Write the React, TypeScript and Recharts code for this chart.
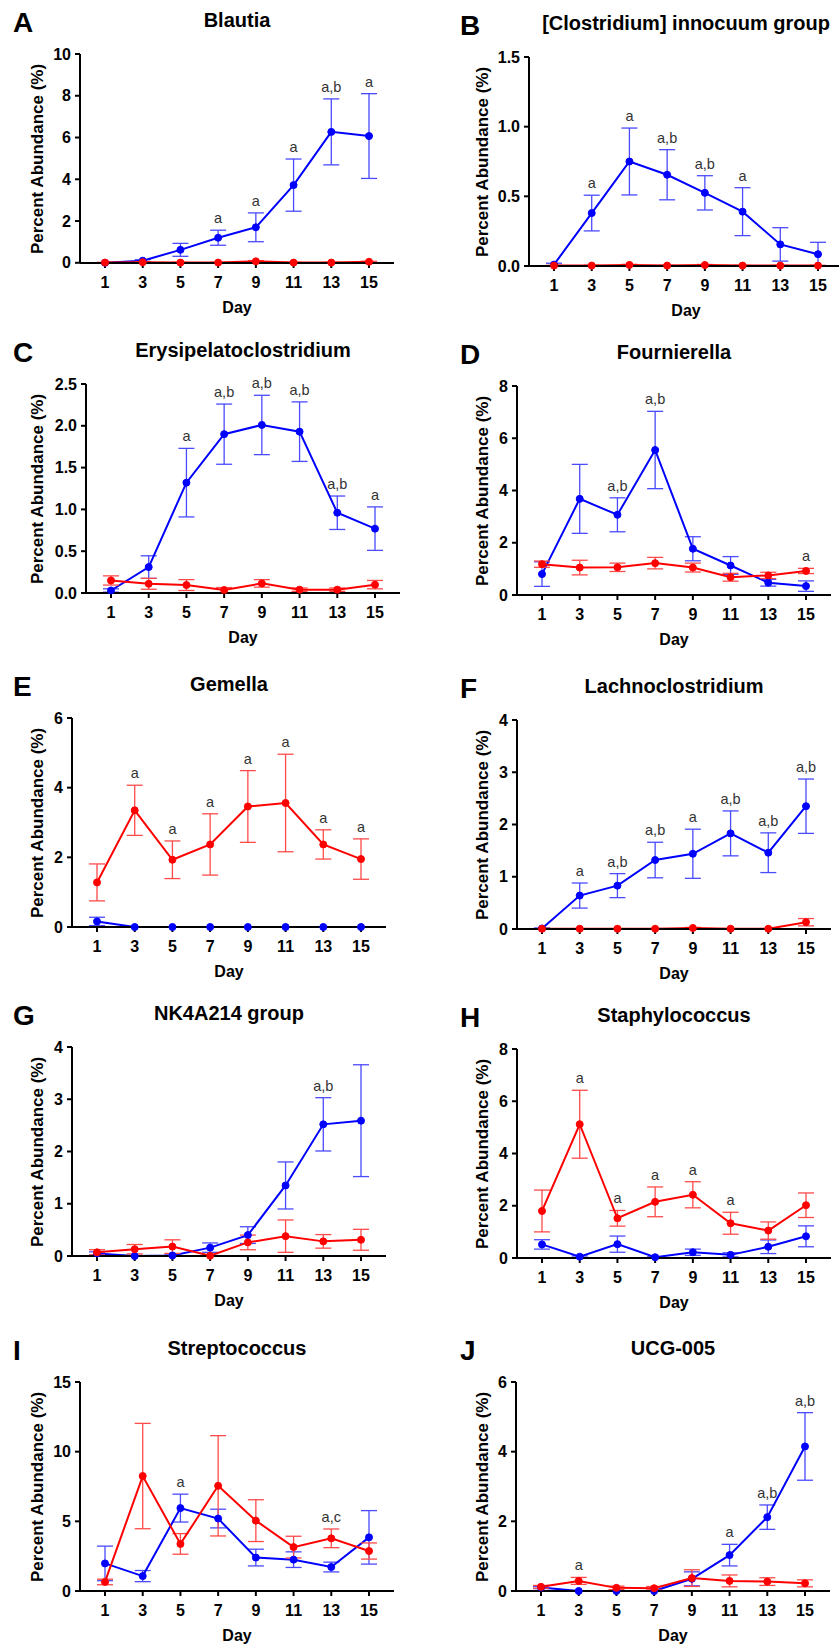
import React from 'react';
import { LineChart, Line, XAxis, YAxis, ErrorBar } from 'recharts';

const days = [1, 3, 5, 7, 9, 11, 13, 15];

// A - Blautia
const blautiaBlue = [0.0, 0.1, 0.62, 1.2, 1.7, 3.72, 6.27, 6.07];
const blautiaBlueErr = [0.01, 0.05, 0.31, 0.36, 0.69, 1.25, 1.58, 2.03];
const blautiaRed = [0.01, 0.03, 0.01, 0.01, 0.07, 0.01, 0.01, 0.05];
const blautiaRedErr = [0.01, 0.02, 0.01, 0.01, 0.03, 0.01, 0.01, 0.02];
const blautiaMarks = ['', '', '', 'a', 'a', 'a', 'a,b', 'a'];

// B - [Clostridium] innocuum group
const innocuumBlue = [0.01, 0.38, 0.75, 0.655, 0.525, 0.39, 0.155, 0.085];
const innocuumBlueErr = [0.01, 0.128, 0.24, 0.18, 0.123, 0.172, 0.12, 0.085];
const innocuumRed = [0.003, 0.003, 0.008, 0.003, 0.007, 0.003, 0.003, 0.003];
const innocuumRedErr = [0.002, 0.002, 0.004, 0.002, 0.004, 0.002, 0.002, 0.002];
const innocuumMarks = ['', 'a', 'a', 'a,b', 'a,b', 'a', '', ''];

// C - Erysipelatoclostridium
const erysiBlue = [0.03, 0.31, 1.32, 1.9, 2.01, 1.93, 0.96, 0.77];
const erysiBlueErr = [0.02, 0.135, 0.41, 0.36, 0.355, 0.356, 0.2, 0.26];
const erysiRed = [0.15, 0.11, 0.095, 0.035, 0.115, 0.04, 0.04, 0.1];
const erysiRedErr = [0.055, 0.065, 0.065, 0.03, 0.045, 0.02, 0.02, 0.05];
const erysiMarks = ['', '', 'a', 'a,b', 'a,b', 'a,b', 'a,b', 'a'];

// D - Fournierella
const fournBlue = [0.8, 3.68, 3.07, 5.55, 1.77, 1.13, 0.47, 0.34];
const fournBlueErr = [0.47, 1.32, 0.65, 1.48, 0.46, 0.34, 0.13, 0.2];
const fournRed = [1.18, 1.05, 1.06, 1.22, 1.05, 0.68, 0.75, 0.92];
const fournRedErr = [0.12, 0.28, 0.16, 0.22, 0.17, 0.15, 0.12, 0.1];
const fournMarks = ['', '', 'a,b', 'a,b', '', '', '', 'a'];

// E - Gemella
const gemellaBlue = [0.16, 0, 0, 0, 0, 0, 0, 0];
const gemellaBlueErr = [0.12, 0, 0, 0, 0, 0, 0, 0];
const gemellaRed = [1.28, 3.35, 1.93, 2.37, 3.46, 3.56, 2.37, 1.95];
const gemellaRedErr = [0.53, 0.72, 0.54, 0.88, 1.03, 1.4, 0.42, 0.58];
const gemellaMarks = ['', 'a', 'a', 'a', 'a', 'a', 'a', 'a'];

// F - Lachnoclostridium
const lachnoBlue = [0.01, 0.64, 0.83, 1.32, 1.44, 1.83, 1.46, 2.35];
const lachnoBlueErr = [0.01, 0.24, 0.23, 0.34, 0.47, 0.43, 0.38, 0.52];
const lachnoRed = [0.005, 0.005, 0.005, 0.005, 0.02, 0.005, 0.005, 0.13];
const lachnoRedErr = [0.003, 0.003, 0.003, 0.003, 0.01, 0.003, 0.003, 0.07];
const lachnoMarks = ['', 'a', 'a,b', 'a,b', 'a', 'a,b', 'a,b', 'a,b'];

// G - NK4A214 group
const nkBlue = [0.05, 0.0, 0.01, 0.16, 0.4, 1.35, 2.52, 2.59];
const nkBlueErr = [0.03, 0, 0.01, 0.09, 0.16, 0.45, 0.51, 1.07];
const nkRed = [0.07, 0.13, 0.18, 0.005, 0.26, 0.38, 0.28, 0.31];
const nkRedErr = [0.05, 0.09, 0.13, 0.005, 0.14, 0.31, 0.13, 0.2];
const nkMarks = ['', '', '', '', '', '', 'a,b', ''];

// H - Staphylococcus
const staphBlue = [0.52, 0.05, 0.53, 0.03, 0.22, 0.12, 0.43, 0.83];
const staphBlueErr = [0.18, 0.03, 0.31, 0.02, 0.12, 0.08, 0.26, 0.4];
const staphRed = [1.8, 5.12, 1.52, 2.15, 2.42, 1.33, 1.05, 2.02];
const staphRedErr = [0.8, 1.3, 0.3, 0.57, 0.5, 0.42, 0.33, 0.47];
const staphMarks = ['', 'a', 'a', 'a', 'a', 'a', '', ''];

// I - Streptococcus
const strepBlue = [1.98, 1.07, 5.95, 5.2, 2.4, 2.25, 1.72, 3.85];
const strepBlueErr = [1.24, 0.4, 1.0, 0.67, 0.6, 0.56, 0.35, 1.92];
const strepRed = [0.65, 8.25, 3.38, 7.55, 5.05, 3.15, 3.78, 2.87];
const strepRedErr = [0.2, 3.78, 0.74, 3.6, 1.5, 0.78, 0.67, 0.58];
const strepMarks = ['', '', 'a', '', '', '', 'a,c', ''];

// J - UCG-005
const ucgBlue = [0.1, 0.0, 0.0, 0.0, 0.35, 1.03, 2.12, 4.15];
const ucgBlueErr = [0.03, 0, 0, 0, 0.2, 0.31, 0.35, 0.97];
const ucgRed = [0.12, 0.29, 0.09, 0.08, 0.37, 0.29, 0.27, 0.22];
const ucgRedErr = [0.04, 0.1, 0.05, 0.05, 0.24, 0.17, 0.11, 0.1];
const ucgMarks = ['', 'a', '', '', '', 'a', 'a,b', 'a,b'];

const FONT = '"Liberation Sans", Arial, Helvetica, sans-serif';
const PLOT_W = 314;
const PLOT_H = 209;
const AXIS_W = 60;
const TOP_PAD = 10;
const X_AXIS_H = 32;
const PX_PER_DAY = 264 / 14;
const X_MIN = 1 - 25 / PX_PER_DAY;
const X_MAX = 15 + 25 / PX_PER_DAY;

interface PanelSpec {
  letter: string;
  title: string;
  yMax: number;
  yTicks: number[];
  decimals: number;
  blue: number[];
  blueErr: number[];
  red: number[];
  redErr: number[];
  marks: string[];
  axisX: number;
  plotTop: number;
  right: boolean;
}

const panels: PanelSpec[] = [
  { letter: 'A', title: 'Blautia', yMax: 10, yTicks: [0, 2, 4, 6, 8, 10], decimals: 0,
    blue: blautiaBlue, blueErr: blautiaBlueErr, red: blautiaRed, redErr: blautiaRedErr, marks: blautiaMarks,
    axisX: 80, plotTop: 54, right: false },
  { letter: 'B', title: '[Clostridium] innocuum group', yMax: 1.5, yTicks: [0, 0.5, 1, 1.5], decimals: 1,
    blue: innocuumBlue, blueErr: innocuumBlueErr, red: innocuumRed, redErr: innocuumRedErr, marks: innocuumMarks,
    axisX: 529, plotTop: 57, right: true },
  { letter: 'C', title: 'Erysipelatoclostridium', yMax: 2.5, yTicks: [0, 0.5, 1, 1.5, 2, 2.5], decimals: 1,
    blue: erysiBlue, blueErr: erysiBlueErr, red: erysiRed, redErr: erysiRedErr, marks: erysiMarks,
    axisX: 86, plotTop: 384, right: false },
  { letter: 'D', title: 'Fournierella', yMax: 8, yTicks: [0, 2, 4, 6, 8], decimals: 0,
    blue: fournBlue, blueErr: fournBlueErr, red: fournRed, redErr: fournRedErr, marks: fournMarks,
    axisX: 517, plotTop: 386, right: true },
  { letter: 'E', title: 'Gemella', yMax: 6, yTicks: [0, 2, 4, 6], decimals: 0,
    blue: gemellaBlue, blueErr: gemellaBlueErr, red: gemellaRed, redErr: gemellaRedErr, marks: gemellaMarks,
    axisX: 72, plotTop: 718, right: false },
  { letter: 'F', title: 'Lachnoclostridium', yMax: 4, yTicks: [0, 1, 2, 3, 4], decimals: 0,
    blue: lachnoBlue, blueErr: lachnoBlueErr, red: lachnoRed, redErr: lachnoRedErr, marks: lachnoMarks,
    axisX: 517, plotTop: 720, right: true },
  { letter: 'G', title: 'NK4A214 group', yMax: 4, yTicks: [0, 1, 2, 3, 4], decimals: 0,
    blue: nkBlue, blueErr: nkBlueErr, red: nkRed, redErr: nkRedErr, marks: nkMarks,
    axisX: 72, plotTop: 1047, right: false },
  { letter: 'H', title: 'Staphylococcus', yMax: 8, yTicks: [0, 2, 4, 6, 8], decimals: 0,
    blue: staphBlue, blueErr: staphBlueErr, red: staphRed, redErr: staphRedErr, marks: staphMarks,
    axisX: 517, plotTop: 1049, right: true },
  { letter: 'I', title: 'Streptococcus', yMax: 15, yTicks: [0, 5, 10, 15], decimals: 0,
    blue: strepBlue, blueErr: strepBlueErr, red: strepRed, redErr: strepRedErr, marks: strepMarks,
    axisX: 80, plotTop: 1382, right: false },
  { letter: 'J', title: 'UCG-005', yMax: 6, yTicks: [0, 2, 4, 6], decimals: 0,
    blue: ucgBlue, blueErr: ucgBlueErr, red: ucgRed, redErr: ucgRedErr, marks: ucgMarks,
    axisX: 516, plotTop: 1382, right: true },
];

const centered = (x: number, y: number, size: number, extra: React.CSSProperties = {}): React.CSSProperties => ({
  position: 'absolute',
  left: x,
  top: y,
  transform: 'translate(-50%, -50%)',
  whiteSpace: 'nowrap',
  fontFamily: FONT,
  fontWeight: 700,
  fontSize: size,
  lineHeight: 1,
  color: '#000',
  ...extra,
});

const renderMark = (p: any) => {
  const { cx, cy, payload, index } = p;
  if (!payload || !payload.mark || cx == null || cy == null) return <g key={`m-${index}`} />;
  return (
    <text key={`m-${index}`} x={cx} y={cy - 7} textAnchor="middle" fontSize={14.5} fill="#333" fontFamily={FONT}>
      {payload.mark}
    </text>
  );
};

const axisStroke = { stroke: '#000', strokeWidth: 2 };
const tickStyle = { fill: '#000', fontSize: 16, fontWeight: 700, fontFamily: FONT };

const Panel: React.FC<{ p: PanelSpec }> = ({ p }) => {
  const rows = days.map((d, i) => ({
    day: d,
    blue: p.blue[i],
    blueErr: p.blueErr[i],
    red: p.red[i],
    redErr: p.redErr[i],
    mark: p.marks[i],
    markY: Math.max(p.blue[i] + p.blueErr[i], p.red[i] + p.redErr[i]),
  }));
  const plotMid = p.axisX + PLOT_W / 2;
  const plotBottom = p.plotTop + PLOT_H;
  const labelX = p.right ? 482 : 37;
  const letterX = p.right ? 460 : 13;

  return (
    <>
      <div style={{ ...centered(letterX, p.plotTop - 31, 28), transform: 'translateY(-50%)' }}>{p.letter}</div>
      <div style={centered(plotMid, p.plotTop - 34, 20)}>{p.title}</div>
      <div style={centered(labelX, p.plotTop + PLOT_H / 2, 17, { transform: 'translate(-50%, -50%) rotate(-90deg)' })}>
        Percent Abundance (%)
      </div>
      <div style={centered(plotMid, plotBottom + 45, 16)}>Day</div>
      <div style={{ position: 'absolute', left: p.axisX - AXIS_W, top: p.plotTop - TOP_PAD }}>
        <LineChart
          width={AXIS_W + PLOT_W + 6}
          height={TOP_PAD + PLOT_H + X_AXIS_H}
          data={rows}
          margin={{ top: TOP_PAD, right: 6, bottom: 0, left: 0 }}
        >
          <XAxis
            dataKey="day"
            type="number"
            domain={[X_MIN, X_MAX]}
            ticks={days}
            interval={0}
            height={X_AXIS_H}
            tickSize={5}
            tickMargin={9}
            axisLine={axisStroke}
            tickLine={axisStroke}
            tick={tickStyle}
          />
          <YAxis
            type="number"
            domain={[0, p.yMax]}
            ticks={p.yTicks}
            interval={0}
            width={AXIS_W}
            tickSize={5}
            tickMargin={4}
            tickFormatter={(v: number) => v.toFixed(p.decimals)}
            axisLine={axisStroke}
            tickLine={axisStroke}
            tick={tickStyle}
          />
          <Line
            type="linear"
            dataKey="blue"
            stroke="#0000ff"
            strokeWidth={2}
            dot={{ r: 3.5, fill: '#0000ff', stroke: '#0000ff', strokeWidth: 1 }}
            activeDot={false}
            isAnimationActive={false}
          >
            <ErrorBar dataKey="blueErr" width={8} strokeWidth={1.3} stroke="#4a4aff" direction="y" />
          </Line>
          <Line
            type="linear"
            dataKey="red"
            stroke="#ff0000"
            strokeWidth={2}
            dot={{ r: 3.5, fill: '#ff0000', stroke: '#ff0000', strokeWidth: 1 }}
            activeDot={false}
            isAnimationActive={false}
          >
            <ErrorBar dataKey="redErr" width={8} strokeWidth={1.3} stroke="#ff4a4a" direction="y" />
          </Line>
          <Line
            type="linear"
            dataKey="markY"
            stroke="none"
            dot={renderMark}
            activeDot={false}
            isAnimationActive={false}
          />
        </LineChart>
      </div>
    </>
  );
};

const App: React.FC = () => (
  <div
    style={{
      position: 'absolute',
      left: 0,
      top: 0,
      width: 839,
      height: 1647,
      overflow: 'hidden',
      background: '#fff',
    }}
  >
    {panels.map((p) => (
      <Panel key={p.letter} p={p} />
    ))}
  </div>
);

export default App;
